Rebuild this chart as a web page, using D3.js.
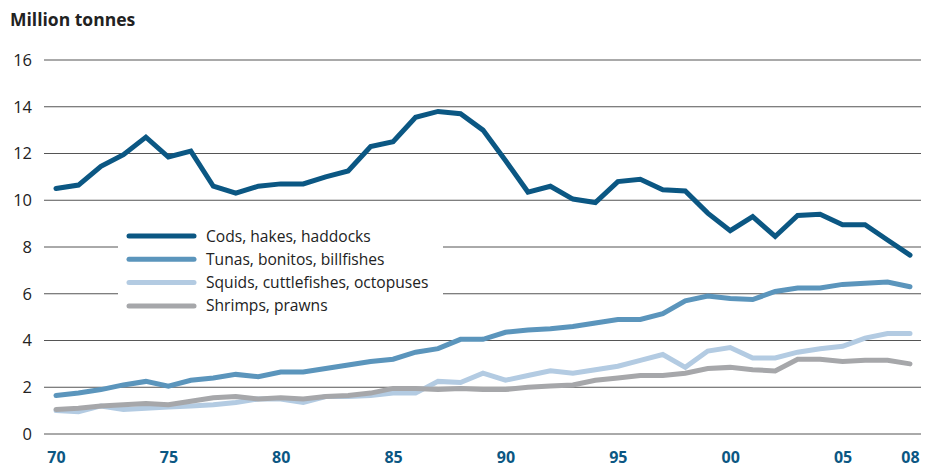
<!DOCTYPE html>
<html>
<head>
<meta charset="utf-8">
<script src="https://cdn.jsdelivr.net/npm/d3@7"></script>
<style>
body { margin: 0; background: #fff; }
text { font-family: "Open Sans", "Noto Sans", sans-serif; }
</style>
</head>
<body>
<div id="chart"></div>
<script>
var years = d3.range(1970, 2009);

var cods = [10.5, 10.65, 11.45, 11.95, 12.7, 11.85, 12.1, 10.6, 10.3, 10.6,
            10.7, 10.7, 11.0, 11.25, 12.3, 12.5, 13.55, 13.8, 13.7, 13.0,
            11.7, 10.35, 10.6, 10.05, 9.9, 10.8, 10.9, 10.45, 10.4, 9.45,
            8.7, 9.3, 8.45, 9.35, 9.4, 8.95, 8.95, 8.3, 7.65];
var tunas = [1.65, 1.75, 1.9, 2.1, 2.25, 2.05, 2.3, 2.4, 2.55, 2.45,
             2.65, 2.65, 2.8, 2.95, 3.1, 3.2, 3.5, 3.65, 4.05, 4.05,
             4.35, 4.45, 4.5, 4.6, 4.75, 4.9, 4.9, 5.15, 5.7, 5.9,
             5.8, 5.75, 6.1, 6.25, 6.25, 6.4, 6.45, 6.5, 6.3];
var squids = [1.0, 0.95, 1.2, 1.05, 1.1, 1.15, 1.2, 1.25, 1.35, 1.5,
              1.5, 1.35, 1.6, 1.6, 1.65, 1.75, 1.75, 2.25, 2.2, 2.6,
              2.3, 2.5, 2.7, 2.6, 2.75, 2.9, 3.15, 3.4, 2.85, 3.55,
              3.7, 3.25, 3.25, 3.5, 3.65, 3.75, 4.1, 4.3, 4.3];
var shrimps = [1.05, 1.1, 1.2, 1.25, 1.3, 1.25, 1.4, 1.55, 1.6, 1.5,
               1.55, 1.5, 1.6, 1.65, 1.75, 1.95, 1.95, 1.9, 1.95, 1.9,
               1.9, 2.0, 2.05, 2.1, 2.3, 2.4, 2.5, 2.5, 2.6, 2.8,
               2.85, 2.75, 2.7, 3.2, 3.2, 3.1, 3.15, 3.15, 3.0];

var yTicks = [0, 2, 4, 6, 8, 10, 12, 14, 16];
var xTicks = [1970, 1975, 1980, 1985, 1990, 1995, 2000, 2005, 2008];
var xTickLabels = ["70", "75", "80", "85", "90", "95", "00", "05", "08"];

var series = [
    {name: "Squids, cuttlefishes, octopuses", values: squids, color: "#b3cbe2"},
    {name: "Shrimps, prawns", values: shrimps, color: "#a6a7aa"},
    {name: "Tunas, bonitos, billfishes", values: tunas, color: "#5b95bc"},
    {name: "Cods, hakes, haddocks", values: cods, color: "#0b5783"}
];
var legendOrder = [3, 2, 0, 1];

var W = 945, H = 469;
var x = d3.scaleLinear().domain([1970, 2008]).range([56, 910]);
var y = d3.scaleLinear().domain([0, 16]).range([434, 60]);

var svg = d3.select("#chart").append("svg")
    .attr("width", W)
    .attr("height", H);

svg.append("text")
    .attr("x", 10).attr("y", 26)
    .style("font-size", "17.5px")
    .style("font-weight", "bold")
    .style("fill", "#222")
    .text("Million tonnes");

// gridlines
svg.selectAll(".grid")
    .data(yTicks)
  .enter().append("line")
    .attr("class", "grid")
    .attr("x1", 44).attr("x2", 921)
    .attr("y1", function(d) { return y(d); })
    .attr("y2", function(d) { return y(d); })
    .style("stroke", "#555")
    .style("stroke-width", 1);

var yAxis = d3.axisLeft(y).tickValues(yTicks).tickSize(0).tickPadding(0);
var gy = svg.append("g")
    .attr("transform", "translate(32,0)")
    .call(yAxis);
gy.select(".domain").remove();
gy.selectAll("text")
    .style("font-size", "16.5px")
    .style("fill", "#222")
    .attr("text-anchor", "end")
    .style("font-family", "'Open Sans', sans-serif");

var xAxis = d3.axisBottom(x).tickValues(xTicks).tickSize(0).tickPadding(0)
    .tickFormat(function(d, i) { return xTickLabels[i]; });
var gx = svg.append("g")
    .attr("transform", "translate(0,452)")
    .call(xAxis);
gx.select(".domain").remove();
gx.selectAll("text")
    .style("font-size", "16px")
    .style("font-weight", "bold")
    .style("fill", "#0b5783")
    .style("font-family", "'Open Sans', sans-serif");

// legend box masks gridlines
var legend = svg.append("g");
legend.append("rect")
    .attr("x", 118).attr("y", 224)
    .attr("width", 325).attr("height", 94)
    .style("fill", "#fff");

var line = d3.line()
    .x(function(d, i) { return x(years[i]); })
    .y(function(d) { return y(d); });

svg.selectAll(".series")
    .data(series)
  .enter().append("path")
    .attr("class", "series")
    .attr("d", function(d) { return line(d.values); })
    .style("fill", "none")
    .style("stroke", function(d) { return d.color; })
    .style("stroke-width", 5)
    .style("stroke-linejoin", "miter")
    .style("stroke-linecap", "round");

legendOrder.forEach(function(k, i) {
    var s = series[k];
    var ly = 236 + i * 23.3;
    legend.append("line")
        .attr("x1", 129).attr("x2", 194)
        .attr("y1", ly).attr("y2", ly)
        .style("stroke", s.color)
        .style("stroke-width", 5)
        .style("stroke-linecap", "round");
    legend.append("text")
        .attr("x", 206).attr("y", ly + 5.5)
        .style("font-size", "15.6px")
        .style("fill", "#222")
        .text(s.name);
});
</script>
</body>
</html>
